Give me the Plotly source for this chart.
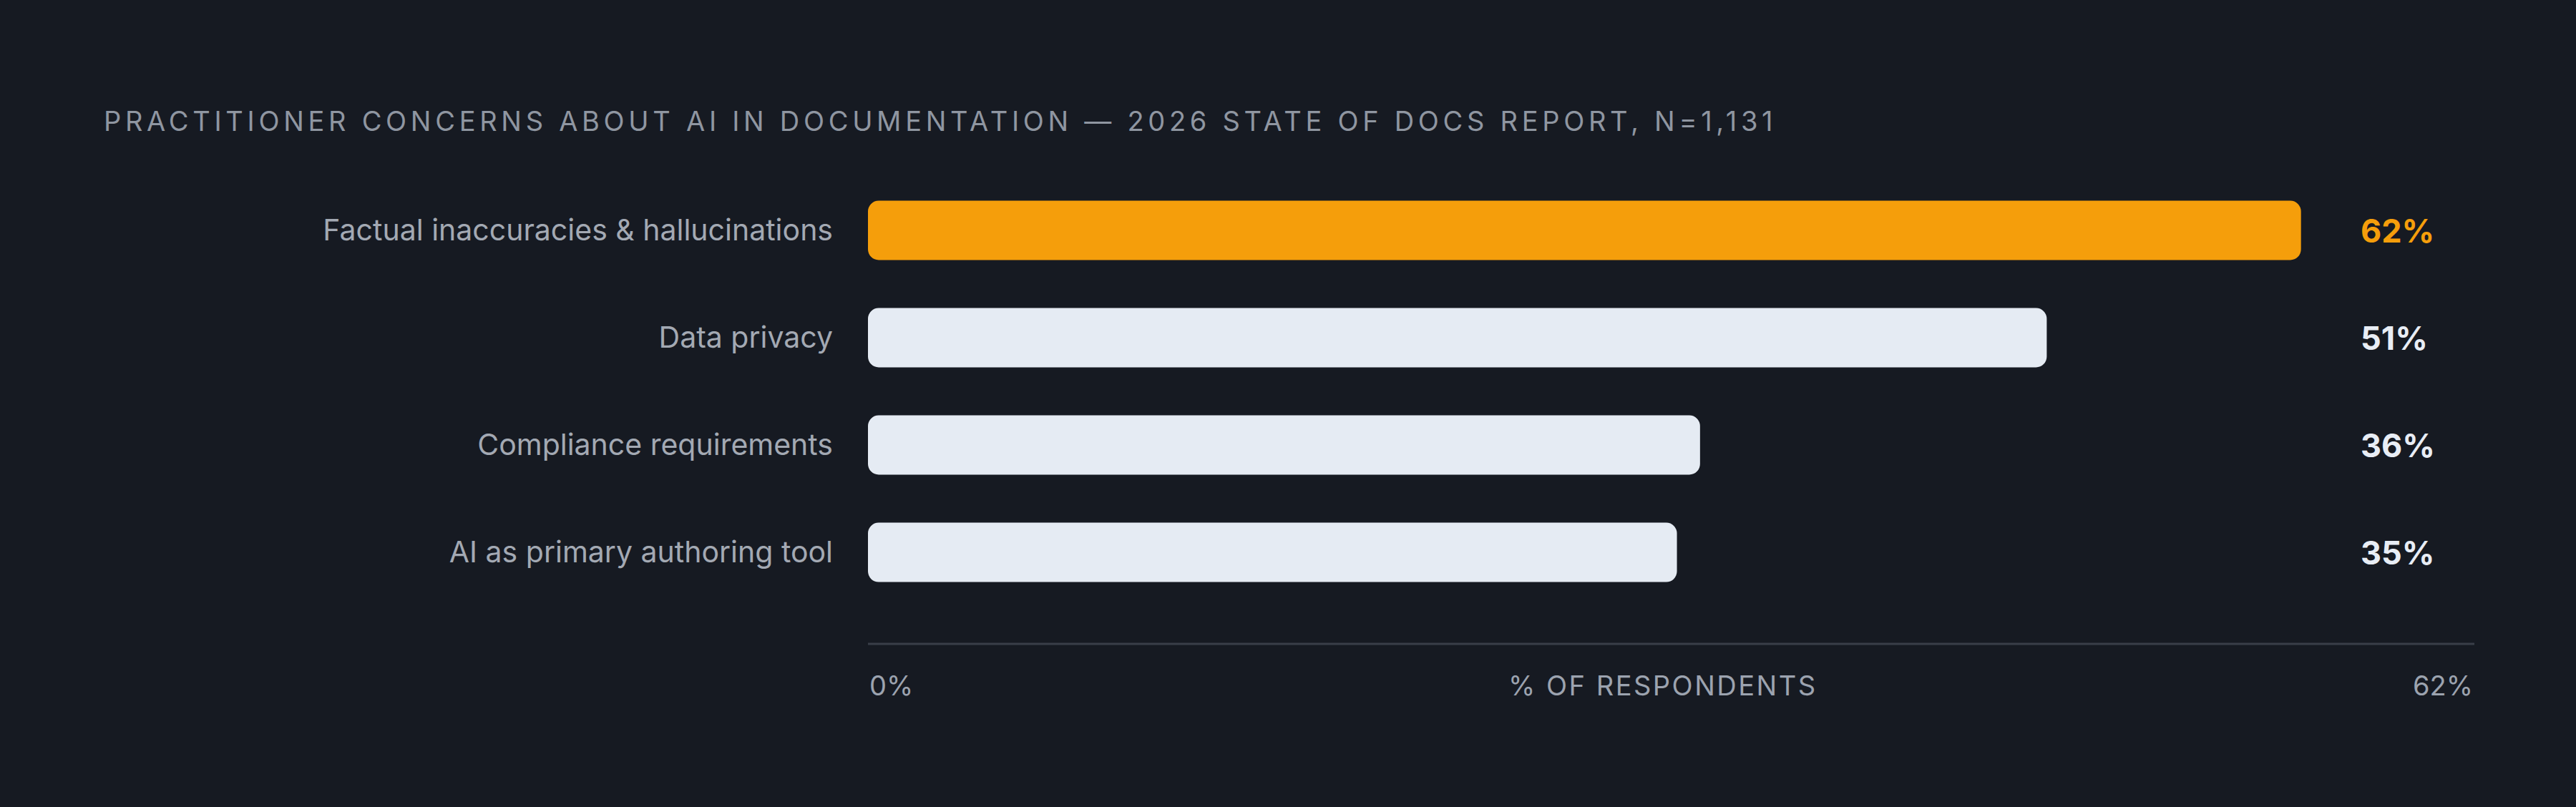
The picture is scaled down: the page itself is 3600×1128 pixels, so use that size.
import plotly.graph_objects as go

categories = [
    "Factual inaccuracies & hallucinations",
    "Data privacy",
    "Compliance requirements",
    "AI as primary authoring tool",
]
values = [62, 51, 36, 35]
value_labels = ["62%", "51%", "36%", "35%"]
axis_tick_labels = ["0%", "62%"]

title = "PRACTITIONER CONCERNS ABOUT AI IN DOCUMENTATION \u2014 2026 STATE OF DOCS REPORT, N=1,131"
axis_title = "% OF RESPONDENTS"

BG = "#161a22"
ACCENT = "#f59e0b"
BAR = "#e5ebf3"
MUTED = "#9ca3af"
LABEL = "#a3a9b3"
FONT = "Inter"

bar_colors = [ACCENT] + [BAR] * (len(values) - 1)
label_colors = [ACCENT] + ["#e8edf5"] * (len(values) - 1)

fig = go.Figure()
# an explicit base makes plotly round both ends of each bar
fig.add_trace(go.Bar(
    x=values, base=[0] * len(values), y=categories,
    orientation="h",
    marker=dict(color=bar_colors, line=dict(width=0)),
    width=0.553, hoverinfo="skip",
))

# value labels, all aligned in one column right of the bars
for cat, txt, col in zip(categories, value_labels, label_colors):
    fig.add_annotation(
        x=0.9285, xref="paper", y=cat, yref="y",
        text=txt, showarrow=False, xanchor="left", yanchor="middle",
        font=dict(family=FONT, size=45, color=col, weight=700),
    )

# axis end labels and axis title
fig.add_annotation(x=0, xref="paper", y=-0.0888, yref="paper",
                   text=axis_tick_labels[0], showarrow=False,
                   xanchor="left", yanchor="middle",
                   font=dict(family=FONT, size=38, color=MUTED))
fig.add_annotation(x=1, xref="paper", y=-0.0888, yref="paper",
                   text=axis_tick_labels[1], showarrow=False,
                   xanchor="right", yanchor="middle",
                   font=dict(family=FONT, size=38, color=MUTED))
fig.add_annotation(x=0.495, xref="paper", y=-0.0888, yref="paper",
                   text='<span style="letter-spacing:2.5px">' + axis_title + "</span>",
                   showarrow=False, xanchor="center", yanchor="middle",
                   font=dict(family=FONT, size=38, color=MUTED))

fig.update_layout(
    width=3600,
    height=1128,
    paper_bgcolor=BG,
    plot_bgcolor=BG,
    margin=dict(l=1213, r=142, t=247, b=228),
    showlegend=False,
    barcornerradius=15,
    title=dict(
        text='<span style="letter-spacing:5.7px">' + title + "</span>",
        x=145 / 3600, xref="container", xanchor="left",
        y=1 - 170 / 1128, yref="container", yanchor="middle",
        font=dict(family=FONT, size=38, color="#8f96a1"),
    ),
    font=dict(family=FONT),
)

fig.update_xaxes(
    range=[0, max(values) * 1.121],
    showgrid=False, zeroline=False, showticklabels=False,
    showline=False, fixedrange=True,
)
fig.update_yaxes(
    range=[len(categories) - 1 + 0.853, -0.5],
    showgrid=False, zeroline=False, showline=False,
    ticks="", ticklabelstandoff=48,
    tickfont=dict(family=FONT, size=41, color=LABEL),
    fixedrange=True,
)

# baseline under the bars
fig.add_shape(type="line", xref="paper", yref="paper",
              x0=0, x1=1, y0=0, y1=0,
              line=dict(color="#393e48", width=3))

fig.write_html(
    "out.html",
    config={"displayModeBar": False},
    post_script="document.body.style.margin='0';document.body.style.background='" + BG + "';",
)
